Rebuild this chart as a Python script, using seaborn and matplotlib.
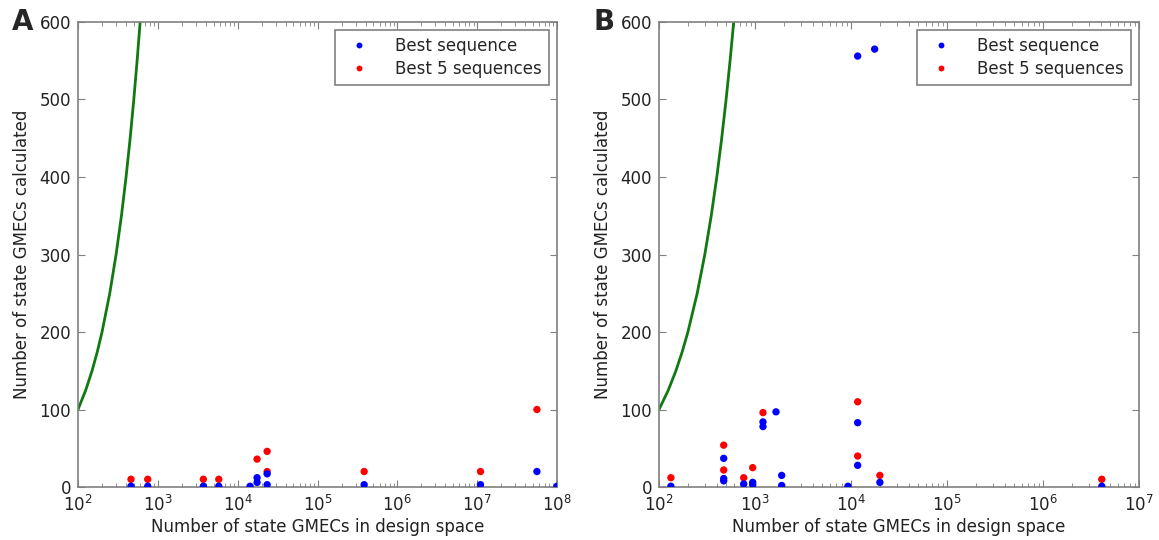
import numpy as np
import pandas as pd
import matplotlib
matplotlib.use('Agg')
import matplotlib.pyplot as plt
import seaborn as sns

# Panel A: design space size vs number of state GMECs calculated
a_best_x = [461, 747, 3716, 5800, 14300, 17500, 17500, 23400, 23400, 384000, 11000000, 56000000, 100000000]
a_best_y = [1, 1, 1, 1, 1, 12, 6, 17, 3, 3, 3, 20, 1]
a_top5_x = [461, 747, 3716, 5800, 17500, 23400, 23400, 384000, 11000000, 56000000]
a_top5_y = [10, 10, 10, 10, 36, 46, 20, 20, 20, 100]

# Panel B
b_best_x = [133, 472, 472, 472, 763, 946, 946, 1211, 1211, 1655, 1897, 1897,
            9300, 11740, 11740, 11740, 17650, 20000, 4100000]
b_best_y = [1, 37, 11, 8, 4, 6, 3, 84, 78, 97, 15, 2,
            1, 83, 28, 556, 565, 6, 1]
b_top5_x = [133, 472, 472, 763, 946, 1211, 11740, 11740, 20000, 4100000]
b_top5_y = [12, 54, 22, 12, 25, 96, 110, 40, 15, 10]

# y = x reference line
diag_x = [100, 125, 150, 175, 200, 250, 300, 350, 400, 450, 500, 550, 600, 650]
diag_y = diag_x

labels = ['Best sequence', 'Best 5 sequences']
colors = {'Best sequence': '#0000ff', 'Best 5 sequences': '#ff0000'}

sns.set_style('ticks', {'axes.edgecolor': '#808080',
                        'xtick.direction': 'in', 'ytick.direction': 'in',
                        'xtick.top': True, 'ytick.right': True})
plt.rcParams['font.family'] = ['DejaVu Sans']
plt.rcParams['xtick.color'] = '#808080'
plt.rcParams['ytick.color'] = '#808080'
plt.rcParams['xtick.labelcolor'] = '#222222'
plt.rcParams['ytick.labelcolor'] = '#222222'

fig = plt.figure(figsize=(11.59, 5.4), dpi=100)
ax_a = fig.add_axes([0.0673, 0.0981, 0.4133, 0.8612])
ax_b = fig.add_axes([0.5686, 0.0981, 0.4141, 0.8612])


def make_df(bx, by, tx, ty):
    df_top = pd.DataFrame({'x': tx, 'y': ty, 'kind': labels[1]})
    df_best = pd.DataFrame({'x': bx, 'y': by, 'kind': labels[0]})
    return pd.concat([df_top, df_best], ignore_index=True)


panels = [(ax_a, make_df(a_best_x, a_best_y, a_top5_x, a_top5_y), 1e8, 'A', 0.010),
          (ax_b, make_df(b_best_x, b_best_y, b_top5_x, b_top5_y), 1e7, 'B', 0.512)]

for ax, df, xmax, letter, lx in panels:
    sns.lineplot(x=diag_x, y=diag_y, ax=ax, color='#107a10', lw=2, zorder=2)
    sns.scatterplot(data=df, x='x', y='y', hue='kind', hue_order=labels,
                    palette=colors, s=28, linewidth=0, ax=ax, zorder=3)
    ax.set_xscale('log')
    ax.set_xlim(1e2, xmax)
    ax.set_ylim(0, 600)
    ax.set_yticks(range(0, 601, 100))
    ax.tick_params(axis='both', which='major', labelsize=12, length=5)
    ax.tick_params(axis='x', which='major', pad=6)
    ax.tick_params(axis='y', which='major', pad=5)
    ax.tick_params(axis='both', which='minor', length=3)
    ax.set_xlabel('Number of state GMECs in design space', fontsize=12, color='#222222', labelpad=2)
    ax.set_ylabel('Number of state GMECs calculated', fontsize=12, color='#222222', labelpad=6)
    for sp in ax.spines.values():
        sp.set_color('#808080')
        sp.set_linewidth(1.2)
    handles, lbls = ax.get_legend_handles_labels()
    leg = ax.legend(handles, lbls, loc='upper right', fontsize=12, fancybox=False,
                    edgecolor='#808080', handletextpad=1.2, borderpad=0.4,
                    labelspacing=0.3, framealpha=1, markerscale=0.8)
    leg.get_frame().set_linewidth(1.2)
    fig.text(lx, 0.985, letter, fontsize=20, fontweight='bold', va='top', ha='left')

fig.savefig('out.png', dpi=100)
